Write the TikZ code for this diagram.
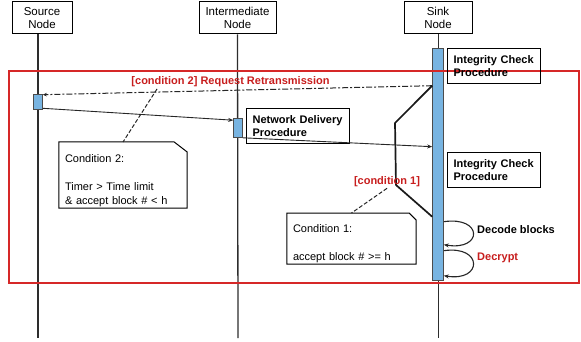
\documentclass[tikz,border=0pt]{standalone}
\usepackage{fontspec}
\setmainfont{Liberation Sans}
\usetikzlibrary{arrows.meta,calc}
\definecolor{framered}{RGB}{214,40,40}
\definecolor{labred}{RGB}{200,30,30}
\definecolor{actblue}{RGB}{120,180,225}
\definecolor{lifegray}{RGB}{45,45,45}
\tikzset{
  hdr/.style={draw=black, line width=1pt, minimum height=32pt, align=center, font=\fontsize{11.5}{12.5}\selectfont, inner sep=0pt},
  act/.style={draw=black!70, fill=actblue, line width=0.6pt, inner sep=0pt},
  lifeline/.style={draw=lifegray, line width=1.3pt},
  procbox/.style={draw=black, line width=1.2pt, anchor=north west, align=left, inner xsep=6pt, inner ysep=0pt, minimum height=35pt, font=\bfseries\fontsize{11}{13}\selectfont},
  boldlbl/.style={font=\bfseries\fontsize{11}{13}\selectfont, inner sep=1pt},
  redlbl/.style={boldlbl, text=labred},
  notebox/.style={align=left, inner xsep=6pt, inner ysep=1pt, anchor=south, font=\fontsize{11}{14}\selectfont},
  notefr/.style={draw=black, line width=1pt},
  msg/.style={draw=black!85, line width=0.9pt, -{Stealth[length=5pt,width=4pt]}},
  retmsg/.style={draw=black!85, line width=1pt, dash pattern=on 6pt off 2pt on 2pt off 2pt, -{Stealth[length=4pt,width=3.5pt]}},
  branch/.style={draw=black!90, line width=1.7pt},
  selfloop/.style={draw=black!85, line width=1.1pt, -{Stealth[length=5pt,width=4pt]}},
  dashedlink/.style={draw=black!85, line width=1pt, dash pattern=on 4pt off 2pt},
  frameline/.style={draw=framered, line width=1.3pt}
}
\begin{document}
\begin{tikzpicture}[x=1pt,y=-1pt]
\fill[white] (0,0) rectangle (581,342);
\useasboundingbox (0,0) rectangle (581,342);

% headers
\node[hdr, minimum width=60pt] (src) at (42,18) {Source\\Node};
\node[hdr, minimum width=77pt] (mid) at (237.5,18) {Intermediate\\Node};
\node[hdr, minimum width=68pt] (sink) at (438,18) {Sink\\Node};

\coordinate (srcend) at (38,338);
\coordinate (midend) at (238,338);
\coordinate (sinkend) at (438,338);

\draw[lifeline] (src.south -| srcend) -- (srcend);
\draw[lifeline] (mid.south) -- (midend);
\draw[lifeline, line width=0.9pt] (sink.south) -- (sinkend);

% activation bars
\node[act, minimum width=9pt, minimum height=15pt] (srcact) at (38,101.5) {};
\node[act, minimum width=9pt, minimum height=19pt] (midact) at (238,128) {};
\node[act, minimum width=11pt, minimum height=232pt] (sinkact) at (438,164) {};

% frame
\draw[frameline] (9,71) rectangle (579,283);

% procedure boxes
\node[procbox, text width=81pt] (ic1) at (447,48) {Integrity Check\\Procedure};
\node[procbox, text width=91pt] (nd) at (246,108) {Network Delivery\\Procedure};
\node[procbox, text width=81pt] (ic2) at (447,152) {Integrity Check\\Procedure};

% messages
\coordinate (rtA) at ([yshift=-38pt]sinkact.north west);
\draw[retmsg] (rtA) -- ([yshift=-1pt]srcact.north east);
\draw[msg] ([yshift=1pt]srcact.south east) -- ([yshift=-2pt]midact.north west);
\draw[msg] (midact.south east) -- ([yshift=-99pt]sinkact.north west);

% branch
\coordinate (b1) at (395,123);
\coordinate (b2) at (396,185);
\draw[branch, line join=round] (rtA) -- (b1) -- (b2) -- ([yshift=-169pt]sinkact.north west);

% self loops
\draw[selfloop] ([yshift=-174pt]sinkact.north east) .. controls (483,216) and (483,251) .. ([yshift=-197pt]sinkact.north east);
\draw[selfloop] ([yshift=-203pt]sinkact.north east) .. controls (483,245) and (483,282) .. ([yshift=-228pt]sinkact.north east);
\node[boldlbl, anchor=west] (dec) at (476,230) {Decode blocks};
\node[redlbl, anchor=west] (dcr) at (476,258) {Decrypt};

% condition labels
\node[redlbl] (c2lbl) at (230.5,82) {[condition 2] Request Retransmission};
\node[redlbl] (c1lbl) at (387,182) {[condition 1]};

% notes
\coordinate (n2top) at (123,142);
\node[notebox, text width=116pt] (n2) at (123,208) {Condition 2:\\[14pt]Timer > Time limit\\\& accept block \# < h};
\draw[notefr] (n2.west |- n2top) -- ([xshift=-13pt]n2.east |- n2top) -- ([yshift=-10pt]n2.east |- n2top) -- (n2.south east) -- (n2.south west) -- cycle;
\coordinate (n1top) at (351.5,213);
\node[notebox, text width=117pt] (n1) at (351.5,264) {Condition 1:\\[14pt]accept block \# >= h};
\draw[notefr] (n1.west |- n1top) -- ([xshift=-7pt]n1.east |- n1top) -- ([yshift=-7pt]n1.east |- n1top) -- (n1.south east) -- (n1.south west) -- cycle;

\coordinate (c2pt) at (157,89);
\draw[dashedlink] (c2pt) -- (n2top);
\draw[dashedlink] (c1lbl.south) -- (n1top);
\end{tikzpicture}
\end{document}
